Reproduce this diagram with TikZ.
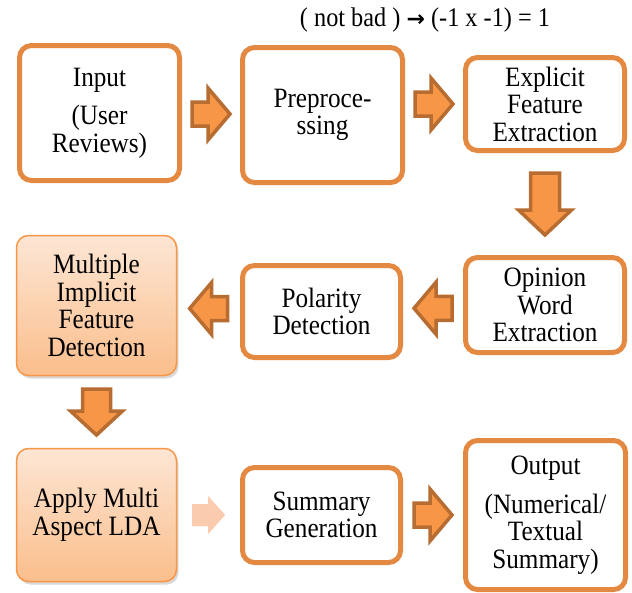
\documentclass[tikz,border=0pt]{standalone}
\usepackage{fontspec}
\setmainfont[FakeStretch=0.9]{Liberation Serif}
\newfontfamily\dejavu{DejaVu Sans}
\usetikzlibrary{calc,shadows}

\definecolor{boxline}{RGB}{227,137,65}
\definecolor{arrowfill}{RGB}{247,150,70}
\definecolor{arrowline}{RGB}{183,108,49}
\definecolor{paletop}{RGB}{253,230,212}
\definecolor{palebottom}{RGB}{250,190,140}
\definecolor{softarrow}{RGB}{251,203,176}

\tikzset{
  boxfont/.style={font=\fontsize{28}{27.5}\selectfont},
  plainbox/.style={draw=boxline, line width=5pt, fill=white, rounded corners=12pt,
    align=center, inner sep=0pt, boxfont},
  shadedbox/.style={draw=arrowfill, line width=1.5pt, rounded corners=12pt,
    top color=paletop, bottom color=palebottom,
    drop shadow={shadow xshift=2pt, shadow yshift=-3pt, opacity=0.25, fill=black!60},
    align=center, inner sep=0pt, boxfont},
  darkarrow/.style={fill=arrowfill, draw=arrowline, line width=3.5pt, line join=miter},
  lightarrow/.style={fill=softarrow},
  % block arrow pointing right: length, shaft width, head width, head length
  pics/blockarrow/.style n args={4}{code={
    \path[pic actions] (-#1/2,-#2/2) -- (#1/2-#4,-#2/2) -- (#1/2-#4,-#3/2)
      -- (#1/2,0) -- (#1/2-#4,#3/2) -- (#1/2-#4,#2/2) -- (-#1/2,#2/2) -- cycle;
  }}
}

\begin{document}
\begin{tikzpicture}[x=1pt,y=-1pt]
\useasboundingbox (0,0) rectangle (632,592);

% caption line above the first row
\node[font=\fontsize{27}{28}\selectfont] (note) at (425,20)
  {( not bad ) {\dejavu\bfseries\fontsize{22}{24}\selectfont →} (-1 x -1) = 1};

% first row
\node[plainbox, minimum width=160pt, minimum height=135pt] (in) at (99.5,113)
  {Input\\[11pt](User\\Reviews)};
\node[plainbox, minimum width=160pt, minimum height=135pt] (pre) at (322.5,115)
  {Preproce-\\ssing};
\node[plainbox, minimum width=159pt, minimum height=93pt] (exp) at (545,104)
  {Explicit\\Feature\\Extraction};

% second row
\node[plainbox, minimum width=159pt, minimum height=95pt] (op) at (545,305)
  {Opinion\\Word\\Extraction};
\node[plainbox, minimum width=158pt, minimum height=92pt] (pol) at (321.5,311.5)
  {Polarity\\Detection};
\node[shadedbox, minimum width=160pt, minimum height=140pt] (mult) at (96.5,305.5)
  {Multiple\\Implicit\\Feature\\Detection};

% third row
\node[shadedbox, minimum width=160pt, minimum height=133pt] (lda) at (96.5,515)
  {Apply Multi\\Aspect LDA};
\node[plainbox, minimum width=158pt, minimum height=95pt] (sum) at (321.5,515)
  {Summary\\Generation};
\node[plainbox, minimum width=160pt, minimum height=149pt] (out) at (545.5,515)
  {Output\\[11pt](Numerical/\\Textual\\Summary)};

% block arrows between the steps
\pic[darkarrow] at ($(in.east)!0.5!(pre.west)$) {blockarrow={38}{24}{52}{22}};
\pic[darkarrow] at ($(exp.west)+(-29,0)$) {blockarrow={38}{24}{52}{22}};
\pic[darkarrow, rotate=-90] at ($(exp.south)!0.5!(op.north)$) {blockarrow={62}{29}{53}{25}};
\pic[darkarrow, rotate=180] at ($(op.west)!0.5!(pol.east)$) {blockarrow={38}{24}{52}{22}};
\pic[darkarrow, rotate=180] at ($(pol.west)!0.5!(mult.east)$) {blockarrow={38}{24}{52}{22}};
\pic[darkarrow, rotate=-90] at ($(mult.south)!0.5!(lda.north)$) {blockarrow={46}{28}{52}{24}};
\pic[lightarrow] at ($(lda.east)!0.5!(sum.west)$) {blockarrow={33}{22}{38}{17}};
\pic[darkarrow] at ($(sum.east)!0.5!(out.west)$) {blockarrow={38}{24}{52}{22}};
\end{tikzpicture}
\end{document}
